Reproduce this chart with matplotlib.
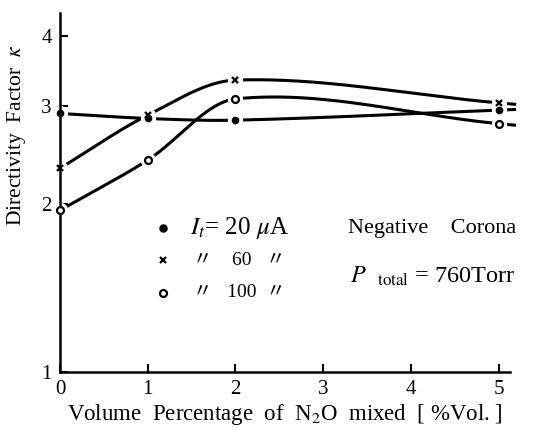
import numpy as np
import matplotlib.pyplot as plt

# values (kappa, log axis)
x_pct = [0, 1, 2, 5]
k_20 = [2.91, 2.85, 2.83, 2.95]
k_60 = [2.32, 2.89, 3.34, 3.04]
k_100 = [1.95, 2.40, 3.09, 2.79]
x_ticks = [0, 1, 2, 3, 4, 5]
y_ticks = [1, 2, 3, 4]

plt.rcParams['font.family'] = ['Liberation Serif', 'Noto Sans CJK JP']
plt.rcParams['mathtext.fontset'] = 'stix'


def smooth(x, y, xs):
    # cubic hermite (catmull-rom style) through the points, linear past the end
    x = np.asarray(x, float)
    y = np.asarray(y, float)
    n = len(x)
    m = np.zeros(n)
    m[0] = (y[1] - y[0]) / (x[1] - x[0])
    m[-1] = (y[-1] - y[-2]) / (x[-1] - x[-2])
    for i in range(1, n - 1):
        m[i] = (y[i + 1] - y[i - 1]) / (x[i + 1] - x[i - 1])
    out = np.empty_like(xs)
    for j, v in enumerate(xs):
        if v >= x[-1]:
            out[j] = y[-1] + m[-1] * (v - x[-1])
            continue
        i = min(np.searchsorted(x, v, side='right') - 1, n - 2)
        h = x[i + 1] - x[i]
        t = (v - x[i]) / h
        out[j] = ((2 * t ** 3 - 3 * t ** 2 + 1) * y[i]
                  + (t ** 3 - 2 * t ** 2 + t) * h * m[i]
                  + (-2 * t ** 3 + 3 * t ** 2) * y[i + 1]
                  + (t ** 3 - t ** 2) * h * m[i + 1])
    return out


fig = plt.figure(figsize=(5.46, 4.28), dpi=100)
ax = fig.add_axes([0.110, 0.131, 0.824, 0.839])

xs = np.linspace(0, 5.2, 400)
for ys, kind in [(k_20, 'dot'), (k_60, 'x'), (k_100, 'ring')]:
    curve = 10 ** smooth(x_pct, np.log10(ys), xs)
    ax.plot(xs, curve, color='black', lw=2.2, zorder=1, solid_capstyle='butt',
            clip_on=False)
    # white halo to break the line at each point
    ax.plot(x_pct, ys, 'o', ms=10, color='white', zorder=2, clip_on=False)
    if kind == 'ring':
        ax.plot(x_pct, ys, 'o', ms=5, mfc='white', mec='black', mew=1.6,
                zorder=3, clip_on=False)
    elif kind == 'x':
        ax.plot(x_pct, ys, 'x', ms=5, color='black', mew=1.7, zorder=3,
                clip_on=False)
    else:
        ax.plot(x_pct, ys, 'o', ms=4.5, color='black', zorder=3, clip_on=False)

ax.set_yscale('log')
ax.set_xlim(0, 5.13)
ax.set_ylim(1, 4.41)
ax.set_xticks(x_ticks)
ax.set_xticklabels([str(v) for v in x_ticks])
ax.set_yticks(y_ticks)
ax.set_yticklabels([str(v) for v in y_ticks])
ax.minorticks_off()
ax.tick_params(direction='in', length=6, width=1.5, labelsize=15)
ax.tick_params(axis='x', pad=6)
ax.tick_params(axis='y', pad=6)
for s in ['top', 'right']:
    ax.spines[s].set_visible(False)
for s in ['left', 'bottom']:
    ax.spines[s].set_linewidth(1.8)

ax.set_xlabel('Volume  Percentage  of  N$_2$O  mixed  [ %Vol. ]', fontsize=16.5,
              labelpad=2)
ax.set_ylabel(r'Directivity  Factor  $\kappa$', fontsize=15.5)
ax.yaxis.set_label_coords(-0.071, 0.66)

# legend drawn by hand
rows = [(0.40, 'o', 4.5, 'black'), (0.311, 'x', 5, 'black'),
        (0.22, 'o', 5, 'white')]
for yy, mk, ms, fc in rows:
    ax.plot([0.229], [yy], mk, ms=ms, mfc=fc, mec='black', color='black',
            mew=1.6, transform=ax.transAxes, clip_on=False)
ax.text(0.289, 0.40, r'$I_t$= 20 $\mu$A', transform=ax.transAxes,
        fontsize=18, va='center')
ax.text(0.295, 0.311, '〃    60   〃', transform=ax.transAxes, fontsize=14,
        va='center')
ax.text(0.295, 0.22, '〃   100  〃', transform=ax.transAxes, fontsize=14,
        va='center')
ax.text(0.64, 0.40, 'Negative    Corona', transform=ax.transAxes,
        fontsize=16, va='center')
ax.text(0.645, 0.265, r'$P$  $_{\mathrm{total}}$ = 760Torr',
        transform=ax.transAxes, fontsize=17.5, va='center')

fig.savefig('out.png', dpi=100)
